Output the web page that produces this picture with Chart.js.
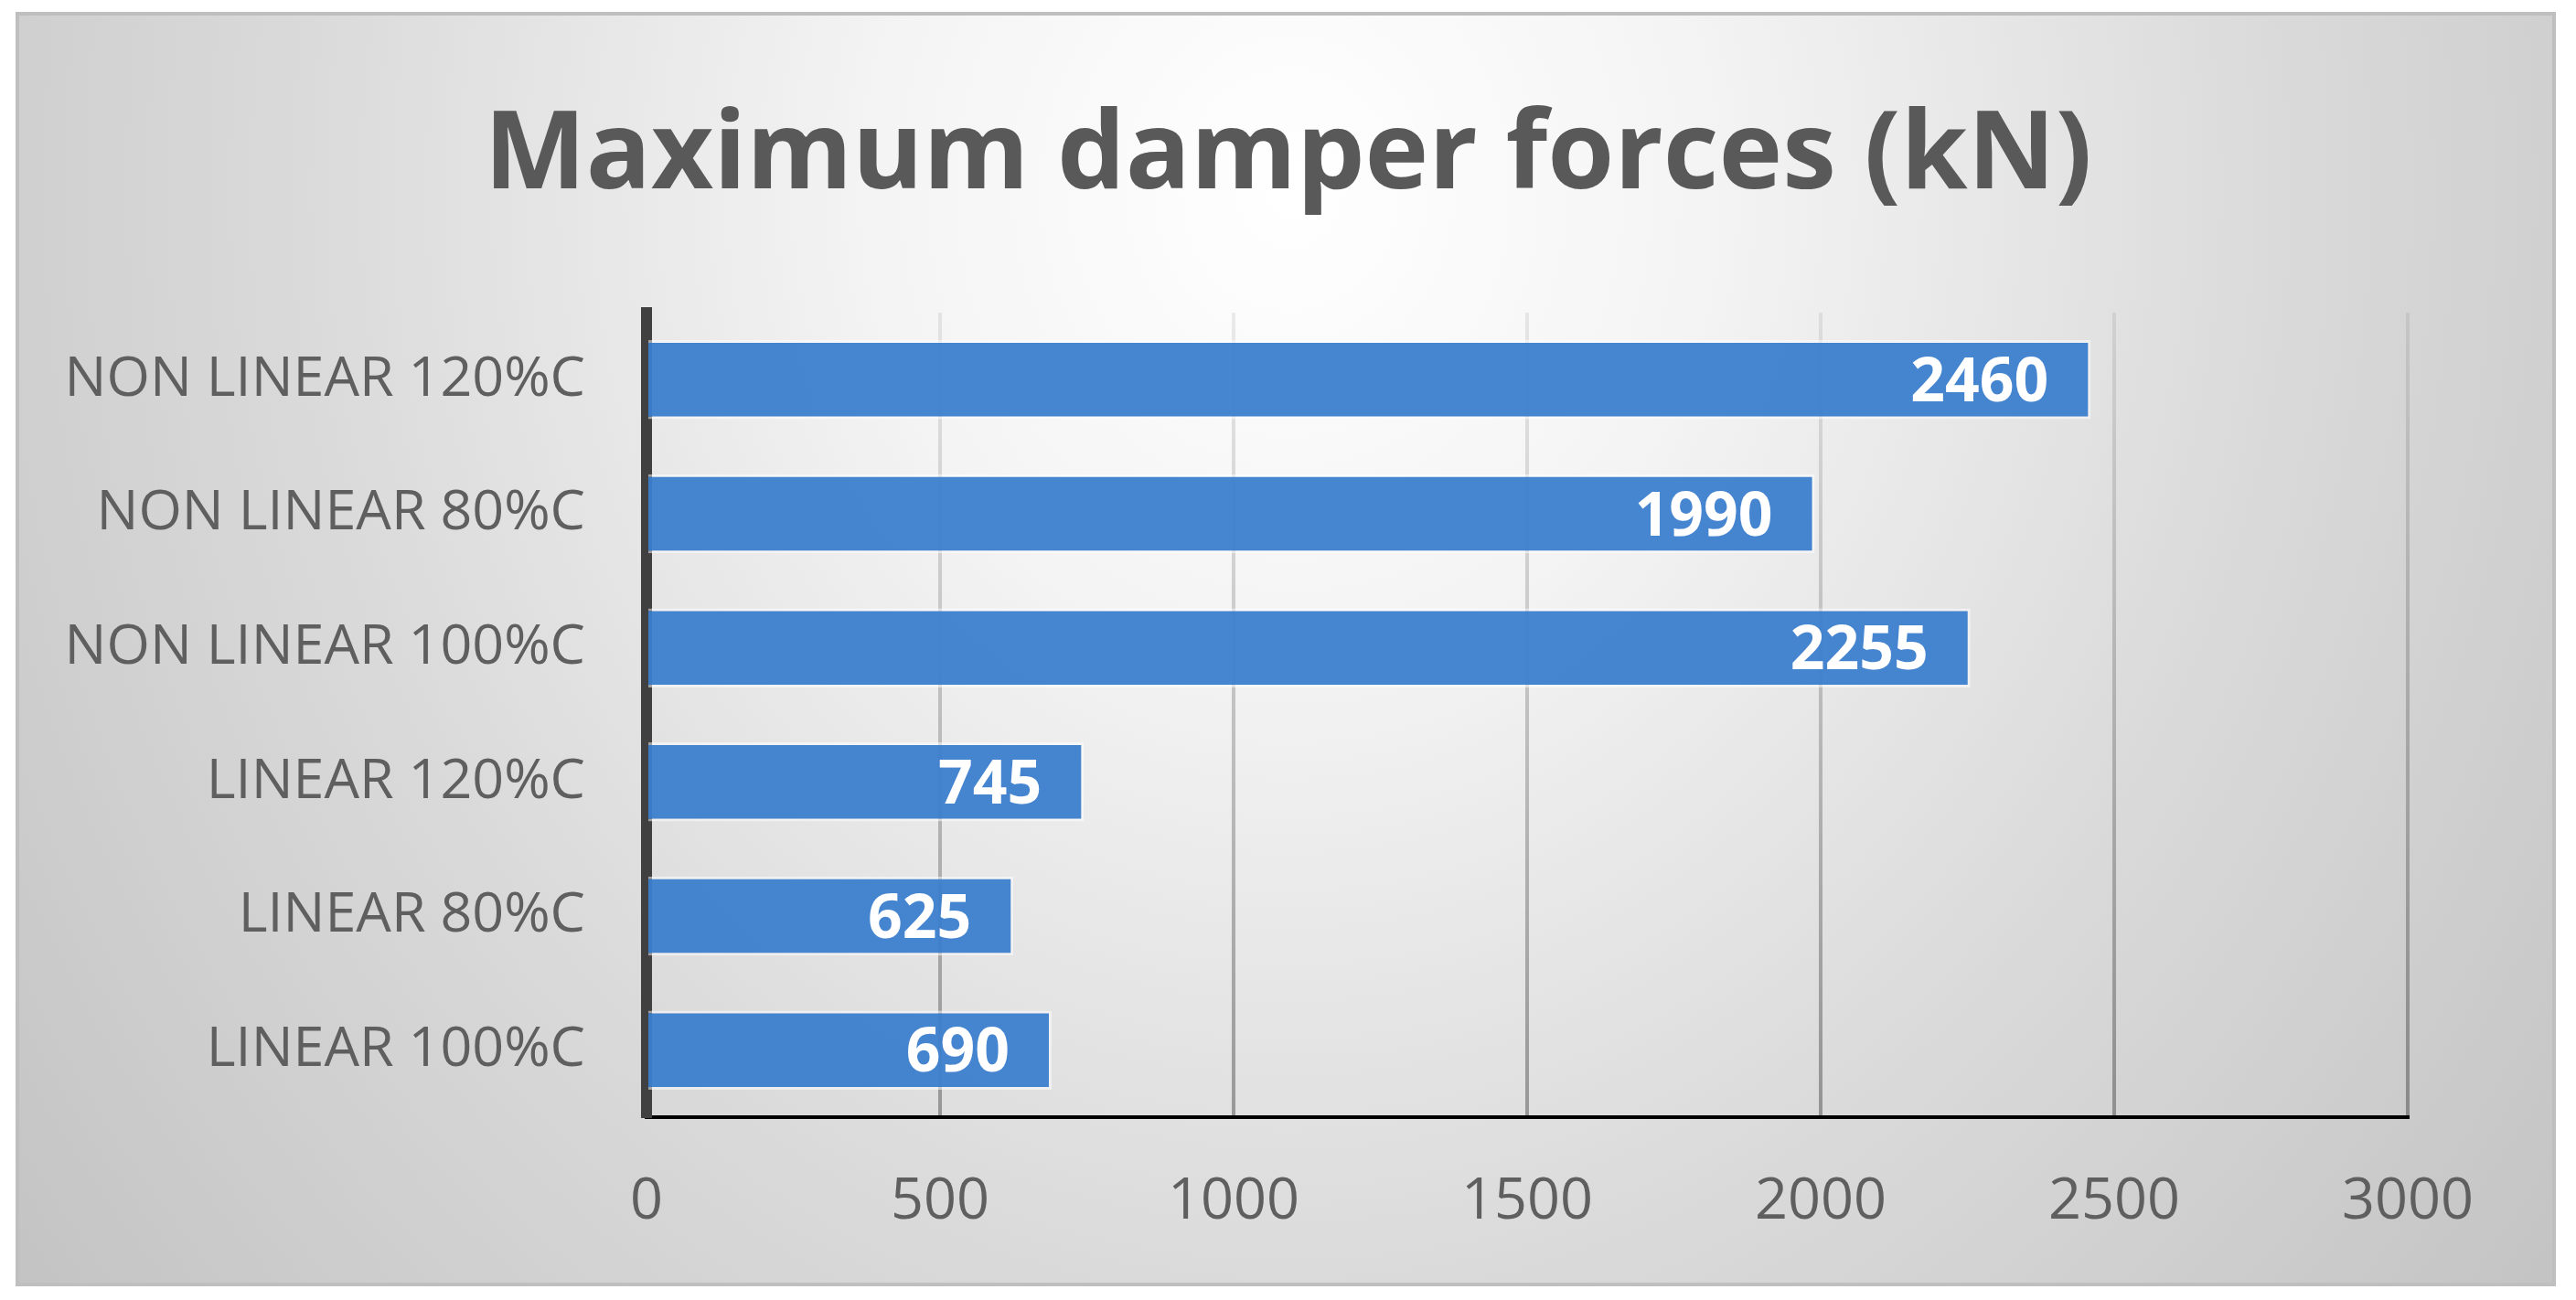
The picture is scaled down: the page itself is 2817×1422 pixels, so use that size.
<!DOCTYPE html>
<html>
<head>
<meta charset="utf-8">
<script src="https://cdn.jsdelivr.net/npm/chart.js@4.4.0/dist/chart.umd.min.js"></script>
<style>
  html, body { margin: 0; padding: 0; background: #ffffff; width: 2817px; height: 1422px; overflow: hidden; }
  #frame {
    position: absolute; left: 17px; top: 13px; width: 2778px; height: 1394px;
    box-sizing: border-box; border: 4px solid #bfbfbf;
    background: radial-gradient(ellipse 1800px 2000px at 1390px 190px,
      #ffffff 0%, #f4f4f4 25%, #dadada 60%, #c2c2c2 100%);
  }
  #wrap { position: absolute; left: 0; top: 0; width: 2817px; height: 1422px; }
</style>
</head>
<body>
<div id="frame"></div>
<div id="wrap"><canvas id="c" width="2817" height="1422"></canvas></div>
<script>
const categories = ["NON LINEAR 120%C", "NON LINEAR 80%C", "NON LINEAR 100%C", "LINEAR 120%C", "LINEAR 80%C", "LINEAR 100%C"];
const forces = [2460, 1990, 2255, 745, 625, 690];
const xTicks = [0, 500, 1000, 1500, 2000, 2500, 3000];
const chartTitle = "Maximum damper forces (kN)";

const valueLabels = {
  id: 'valueLabels',
  afterDatasetsDraw(chart) {
    const ctx = chart.ctx;
    const meta = chart.getDatasetMeta(0);
    const size = 66;
    ctx.save();
    ctx.font = "bold " + size + "px 'Open Sans'";
    ctx.fillStyle = "#ffffff";
    ctx.textAlign = "right";
    ctx.textBaseline = "alphabetic";
    meta.data.forEach((el, i) => {
      ctx.fillText(String(chart.data.datasets[0].data[i]), el.x - 46, el.y + size * 0.714 / 2);
    });
    ctx.restore();
  }
};

function gridColor(c) {
  if (c.index === 0) return 'rgba(0,0,0,0)';
  const chart = c.chart;
  const a = chart.chartArea;
  if (!a) return 'rgba(0,0,0,0.2)';
  const g = chart.ctx.createLinearGradient(0, a.top, 0, a.bottom);
  g.addColorStop(0, 'rgba(0,0,0,0.07)');
  g.addColorStop(1, 'rgba(0,0,0,0.32)');
  return g;
}

new Chart(document.getElementById('c'), {
  type: 'bar',
  data: {
    labels: categories,
    datasets: [{
      data: forces,
      xAxisID: 'x',
      yAxisID: 'y',
      backgroundColor: 'rgba(58,125,205,0.94)',
      borderColor: 'rgba(255,255,255,0.5)',
      borderWidth: 3,
      barPercentage: 1.0,
      categoryPercentage: 0.59
    }]
  },
  options: {
    indexAxis: 'y',
    responsive: false,
    animation: false,
    events: [],
    layout: { padding: { left: 0, right: 0, top: 0, bottom: 0 } },
    plugins: {
      legend: { display: false },
      tooltip: { enabled: false },
      title: {
        display: true,
        text: chartTitle,
        color: '#595959',
        font: { family: "'Open Sans'", size: 118, weight: 'bold', lineHeight: 1.2 },
        padding: { top: 102, bottom: 98.4 }
      }
    },
    scales: {
      x: {
        type: 'linear',
        min: 0,
        max: 3000,
        afterBuildTicks(s) { s.ticks = xTicks.map(v => ({ value: v })); },
        afterFit(s) { s.height = 200; },
        grid: { display: true, drawTicks: false, color: gridColor, lineWidth: 4 },
        border: { display: true, color: '#000000', width: 4 },
        ticks: {
          padding: 55,
          color: '#5f5f5f',
          font: { family: "'Open Sans'", size: 63 },
          callback: (v) => String(v)
        }
      },
      y: {
        afterFit(s) { s.width = 707; },
        grid: { display: false, drawTicks: false },
        border: { display: true, color: '#404040', width: 12 },
        ticks: {
          padding: 67,
          color: '#5f5f5f',
          font: { family: "'Open Sans'", size: 61 }
        }
      },
      spacer: {
        type: 'linear',
        position: 'right',
        display: true,
        afterFit(s) { s.width = 184; },
        grid: { display: false, drawTicks: false },
        border: { display: false },
        ticks: { display: false }
      }
    }
  },
  plugins: [valueLabels]
});
</script>
</body>
</html>
